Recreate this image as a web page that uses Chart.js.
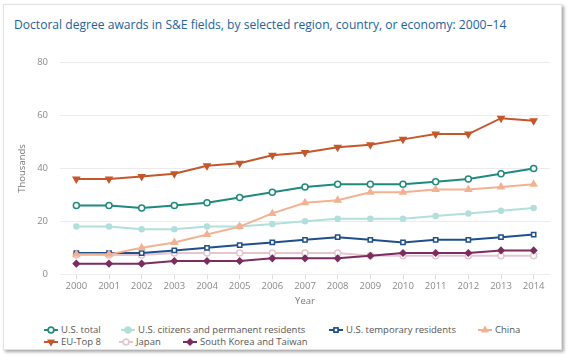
<!DOCTYPE html>
<html>
<head>
<meta charset="utf-8">
<script src="https://cdn.jsdelivr.net/npm/chart.js@4"></script>
<style>
  html, body { margin: 0; padding: 0; background: #fff; }
  body { width: 570px; height: 362px; position: relative; overflow: hidden; font-family: "Open Sans", sans-serif; }
  .card {
    position: absolute; left: 3px; top: 4px; width: 557px; height: 344px;
    background: #fff; border: 1px solid #e2e2e2;
    box-shadow: 2px 2px 3px rgba(0,0,0,0.35);
  }
  .title { position: absolute; left: 10px; top: 11px; font-size: 12.1px; color: #23629e; white-space: nowrap; }
  .plot { position: absolute; left: 0px; top: 40px; width: 557px; height: 264px; }
  .legend-item { position: absolute; display: flex; align-items: center; font-size: 9.5px; color: #555; white-space: nowrap; line-height: 11px; }
  .legend-item canvas { margin-right: 3px; }
</style>
</head>
<body>
<div class="card">
  <div class="title">Doctoral degree awards in S&amp;E fields, by selected region, country, or economy: 2000–14</div>
  <div class="plot"><canvas id="chart"></canvas></div>
  <div id="legend"></div>
</div>
<script>
const years = ["2000","2001","2002","2003","2004","2005","2006","2007","2008","2009","2010","2011","2012","2013","2014"];
const yTicks = [0, 20, 40, 60, 80];

const usTotal     = [26, 26, 25, 26, 27, 29, 31, 33, 34, 34, 34, 35, 36, 38, 40];
const usCitizens  = [18, 18, 17, 17, 18, 18, 19, 20, 21, 21, 21, 22, 23, 24, 25];
const usTemporary = [8, 8, 8, 9, 10, 11, 12, 13, 14, 13, 12, 13, 13, 14, 15];
const china       = [7.5, 7.5, 10, 12, 15, 18, 23, 27, 28, 31, 31, 32, 32, 33, 34];
const euTop8      = [36, 36, 37, 38, 41, 42, 45, 46, 48, 49, 51, 53, 53, 59, 58];
const japan       = [7.3, 7.3, 7.3, 8, 8, 8, 8, 8, 8, 7, 7, 7, 7, 7, 7];
const korTaiwan   = [4, 4, 4, 5, 5, 5, 6, 6, 6, 7, 8, 8, 8, 9, 9];

const series = [
  { label: "U.S. total", data: usTotal, color: "#1f8a7c", style: "circle", fill: "#fff", r: 3 },
  { label: "U.S. citizens and permanent residents", data: usCitizens, color: "#b2dfdb", style: "circle", fill: "#b2dfdb", r: 2.5 },
  { label: "U.S. temporary residents", data: usTemporary, color: "#1f4f8b", style: "rect", fill: "#fff", r: 3 },
  { label: "China", data: china, color: "#f2b292", style: "triangle", fill: "#f2b292", r: 3.5 },
  { label: "EU-Top 8", data: euTop8, color: "#c5572b", style: "triangle", rot: 180, fill: "#c5572b", r: 3.5 },
  { label: "Japan", data: japan, color: "#e6c6cd", style: "circle", fill: "#fff", r: 3 },
  { label: "South Korea and Taiwan", data: korTaiwan, color: "#7b2c60", style: "rectRot", fill: "#7b2c60", r: 3 }
];

// draw order: light lines below dark ones
const order = [1, 5, 3, 0, 2, 6, 4];

const tickFont = { family: "Open Sans", size: 9.5 };

new Chart(document.getElementById("chart"), {
  type: "line",
  data: {
    labels: years,
    datasets: series.map((s, i) => ({
      label: s.label,
      data: s.data,
      borderColor: s.color,
      backgroundColor: s.fill,
      borderWidth: 2,
      pointStyle: s.style,
      rotation: s.rot || 0,
      pointRadius: s.r,
      pointBorderWidth: 1.5,
      pointBorderColor: s.color,
      pointBackgroundColor: s.fill,
      tension: 0,
      order: order[i]
    }))
  },
  options: {
    responsive: true,
    maintainAspectRatio: false,
    animation: false,
    layout: { padding: { left: 0, right: 11, top: 4, bottom: 0 } },
    plugins: { legend: { display: false }, tooltip: { enabled: false } },
    scales: {
      x: {
        offset: true,
        grid: { display: true, drawOnChartArea: false, drawTicks: true, tickLength: 5, offset: false, color: "#dcdcdc" },
        border: { display: false },
        ticks: { color: "#8a8a8a", font: tickFont, maxRotation: 0, padding: 1 },
        title: { display: true, text: "Year", color: "#777", font: tickFont, padding: { top: 3, bottom: 2 } }
      },
      y: {
        min: 0, max: 80,
        afterBuildTicks: (axis) => { axis.ticks = yTicks.map(v => ({ value: v })); },
        afterFit: (axis) => { axis.width = 56; },
        grid: { color: "#ebebeb", lineWidth: 1, drawTicks: false },
        border: { display: false },
        ticks: { color: "#8a8a8a", font: tickFont, padding: 12 },
        title: { display: true, text: "Thousands", color: "#777", font: tickFont, padding: { top: 13, bottom: 0 } }
      }
    }
  }
});

// legend built from the series list
const legendPos = [[40, 319], [117, 319], [325, 319], [474, 319], [40, 331], [115, 331], [179, 331]];
const legend = document.getElementById("legend");
series.forEach((s, i) => {
  const item = document.createElement("div");
  item.className = "legend-item";
  item.style.left = legendPos[i][0] + "px";
  item.style.top = legendPos[i][1] + "px";
  const c = document.createElement("canvas");
  c.width = 14; c.height = 10;
  const g = c.getContext("2d");
  g.strokeStyle = s.color; g.lineWidth = 2;
  g.beginPath(); g.moveTo(0, 5); g.lineTo(14, 5); g.stroke();
  g.fillStyle = s.fill; g.lineWidth = 1.5;
  Chart.helpers.drawPoint(g, { pointStyle: s.style, rotation: s.rot || 0, radius: 2.8, borderWidth: 1.5 }, 7, 5);
  g.fill(); g.stroke();
  item.appendChild(c);
  const t = document.createElement("span");
  t.textContent = s.label;
  item.appendChild(t);
  legend.appendChild(item);
});
</script>
</body>
</html>
